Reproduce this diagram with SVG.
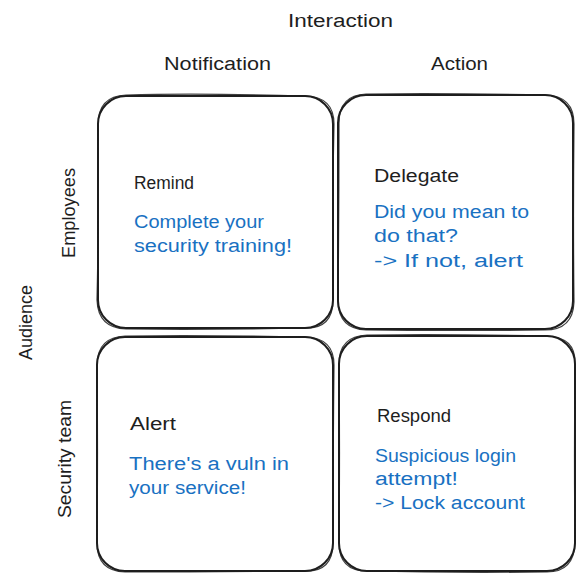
<svg xmlns="http://www.w3.org/2000/svg" width="584" height="581" viewBox="0 0 584 581">
<style>
  .box { fill: #ffffff; stroke: #1e1e1e; stroke-width: 2; stroke-linejoin: round; }
  .box2 { fill: none; stroke: #1e1e1e; stroke-width: 1.2; opacity: 0.85; }
  .lbl { font-family: "Liberation Sans", Arial, sans-serif; font-size: 18px; fill: #1e1e1e; }
  .title { font-family: "Liberation Sans", Arial, sans-serif; font-size: 18px; fill: #1e1e1e; }
  .body { font-family: "Liberation Sans", Arial, sans-serif; font-size: 18px; fill: #1971c2; }
</style>
<rect width="584" height="581" fill="#ffffff"/>

<g id="axis-interaction">
  <text class="lbl" x="288" y="27" textLength="105" lengthAdjust="spacingAndGlyphs">Interaction</text>
</g>
<g id="col-notification">
  <text class="lbl" x="164" y="70" textLength="107" lengthAdjust="spacingAndGlyphs">Notification</text>
</g>
<g id="col-action">
  <text class="lbl" x="431" y="70" textLength="57" lengthAdjust="spacingAndGlyphs">Action</text>
</g>
<g id="axis-audience">
  <text class="lbl" transform="translate(32,360) rotate(-90)" textLength="75" lengthAdjust="spacingAndGlyphs">Audience</text>
</g>
<g id="row-employees">
  <text class="lbl" transform="translate(75,258) rotate(-90)" textLength="90" lengthAdjust="spacingAndGlyphs">Employees</text>
</g>
<g id="row-security-team">
  <text class="lbl" transform="translate(71,518) rotate(-90)" textLength="118" lengthAdjust="spacingAndGlyphs">Security team</text>
</g>

<g id="remind">
  <rect class="box" x="98" y="96" width="235" height="232" rx="28"/>
  <path class="box2" d="M126 95 Q200 93 306 96 Q334 97 334 124 Q332 220 333 300 Q333 329 305 328 Q210 330 126 329 Q98 328 97 300 Q99 210 98 125 Q98 96 126 95 Z"/>
  <text class="title" x="134" y="189" textLength="60" lengthAdjust="spacingAndGlyphs">Remind</text>
  <text class="body" x="134" y="228" textLength="130" lengthAdjust="spacingAndGlyphs">Complete your</text>
  <text class="body" x="134" y="252" textLength="158" lengthAdjust="spacingAndGlyphs">security training!</text>
</g>

<g id="delegate">
  <rect class="box" x="338" y="95" width="235" height="234" rx="28"/>
  <path class="box2" d="M366 94 Q450 93 546 95 Q574 96 574 124 Q573 220 574 302 Q573 330 545 330 Q450 331 366 330 Q339 329 338 302 Q339 210 339 123 Q339 95 366 94 Z"/>
  <text class="title" x="374" y="182" textLength="85" lengthAdjust="spacingAndGlyphs">Delegate</text>
  <text class="body" x="374" y="218" textLength="155" lengthAdjust="spacingAndGlyphs">Did you mean to</text>
  <text class="body" x="374" y="242" textLength="84" lengthAdjust="spacingAndGlyphs">do that?</text>
  <text class="body" x="374" y="267" textLength="149" lengthAdjust="spacingAndGlyphs">-&gt; If not, alert</text>
</g>

<g id="alert">
  <rect class="box" x="97" y="337" width="236" height="234" rx="28"/>
  <path class="box2" d="M125 336 Q210 335 306 337 Q334 338 334 365 Q333 460 333 543 Q333 572 305 571 Q210 572 125 572 Q97 571 97 543 Q98 450 97 364 Q98 337 125 336 Z"/>
  <text class="title" x="130" y="430" textLength="46" lengthAdjust="spacingAndGlyphs">Alert</text>
  <text class="body" x="129" y="470" textLength="160" lengthAdjust="spacingAndGlyphs">There's a vuln in</text>
  <text class="body" x="129" y="494" textLength="117" lengthAdjust="spacingAndGlyphs">your service!</text>
</g>

<g id="respond">
  <rect class="box" x="339" y="336" width="236" height="235" rx="28"/>
  <path class="box2" d="M367 335 Q450 334 547 336 Q576 337 575 364 Q574 460 575 543 Q574 572 547 572 Q450 573 367 571 Q339 571 339 543 Q340 450 339 364 Q339 336 367 335 Z"/>
  <text class="title" x="377" y="422" textLength="74" lengthAdjust="spacingAndGlyphs">Respond</text>
  <text class="body" x="375" y="462" textLength="141" lengthAdjust="spacingAndGlyphs">Suspicious login</text>
  <text class="body" x="375" y="485" textLength="83" lengthAdjust="spacingAndGlyphs">attempt!</text>
  <text class="body" x="375" y="509" textLength="150" lengthAdjust="spacingAndGlyphs">-&gt; Lock account</text>
</g>
</svg>
